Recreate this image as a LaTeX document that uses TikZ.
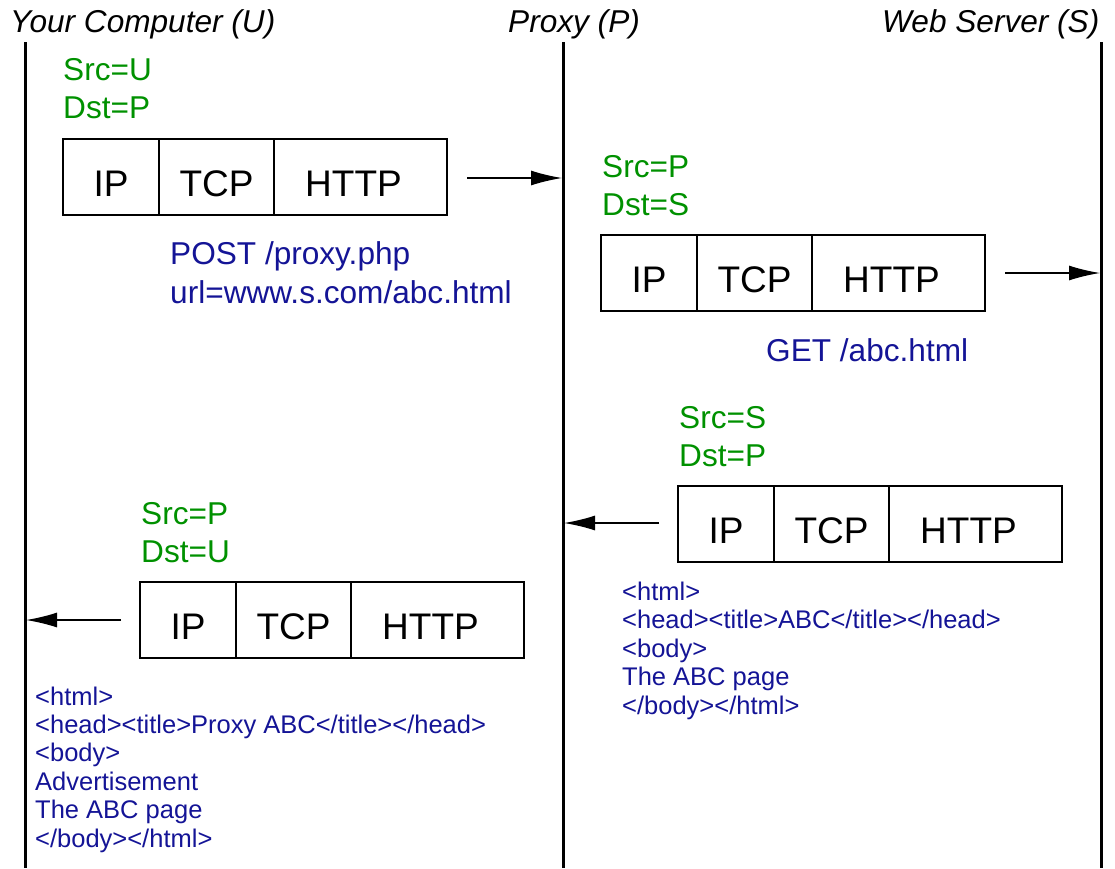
\documentclass[tikz,border=0pt]{standalone}
\usepackage{fontspec}
\setmainfont{Liberation Sans}
\usetikzlibrary{arrows.meta}
\definecolor{lblgreen}{RGB}{0,145,0}
\definecolor{lblblue}{RGB}{20,20,150}
\begin{document}
\begin{tikzpicture}[x=1pt,y=-1pt,
  title/.style={font=\fontsize{31.6}{37}\selectfont\itshape, anchor=base west, inner sep=0pt},
  life/.style={line width=3pt},
  cell/.style={draw, line width=1.4pt, minimum height=76pt, text height=38pt, text depth=0pt,
    inner sep=0pt, outer sep=0pt, font=\fontsize{37}{40}\selectfont, anchor=north west},
  addr/.style={text=lblgreen, font=\fontsize{31.6}{37.5}\selectfont, align=left, anchor=base west, inner sep=0pt},
  req/.style={text=lblblue, font=\fontsize{31.6}{39}\selectfont, align=left, anchor=base west, inner sep=0pt},
  html/.style={text=lblblue, font=\fontsize{25.5}{28.4}\selectfont, align=left, anchor=base west, inner sep=0pt},
  msg/.style={line width=1.4pt, -{Latex[length=31pt,width=15pt]}},
]
\useasboundingbox (0,0) rectangle (1115,868);

% titles
\node[title] (tU) at (10,32) {Your Computer (U)};
\node[title] (tP) at (508,32) {Proxy (P)};
\node[title] (tS) at (882,32) {Web Server (S)};

% lifelines
\coordinate (Utop) at (25,42);  \coordinate (Ubot) at (25,868);
\coordinate (Ptop) at (563,42); \coordinate (Pbot) at (563,868);
\coordinate (Stop) at (1101,42); \coordinate (Sbot) at (1101,868);
\draw[life] (Utop) -- (Ubot);
\draw[life] (Ptop) -- (Pbot);
\draw[life] (Stop) -- (Sbot);

% packet 1: U -> P
\node[addr] (a1) at (63,118) {Src=U\\Dst=P};
\node[cell, minimum width=96pt] (b1ip) at (63,139) {IP};
\node[cell, minimum width=115pt] (b1tcp) at (b1ip.north east) {TCP};
\node[cell, minimum width=173pt] (b1http) at (b1tcp.north east) {HTTP\kern14pt};
\node[req] (r1) at (170,303) {POST /proxy.php\\url=www.s.com/abc.html};
\coordinate (m1s) at (467,178); \coordinate (m1e) at (562,178);
\draw[msg] (m1s) -- (m1e);

% packet 2: P -> S
\node[addr] (a2) at (602,215) {Src=P\\Dst=S};
\node[cell, minimum width=96pt] (b2ip) at (601,235) {IP};
\node[cell, minimum width=115pt] (b2tcp) at (b2ip.north east) {TCP};
\node[cell, minimum width=173pt] (b2http) at (b2tcp.north east) {HTTP\kern14pt};
\node[req] (r2) at (766,361) {GET /abc.html};
\coordinate (m2s) at (1005,273); \coordinate (m2e) at (1100,273);
\draw[msg] (m2s) -- (m2e);

% packet 3: S -> P
\node[addr] (a3) at (679,466) {Src=S\\Dst=P};
\node[cell, minimum width=96pt] (b3ip) at (678,486) {IP};
\node[cell, minimum width=115pt] (b3tcp) at (b3ip.north east) {TCP};
\node[cell, minimum width=173pt] (b3http) at (b3tcp.north east) {HTTP\kern14pt};
\node[html] (h3) at (622,714) {<html>\\<head><title>ABC</title></head>\\<body>\\The ABC page\\</body></html>};
\coordinate (m3s) at (659,523); \coordinate (m3e) at (564,523);
\draw[msg] (m3s) -- (m3e);

% packet 4: P -> U
\node[addr] (a4) at (141,562) {Src=P\\Dst=U};
\node[cell, minimum width=96pt] (b4ip) at (140,582) {IP};
\node[cell, minimum width=115pt] (b4tcp) at (b4ip.north east) {TCP};
\node[cell, minimum width=173pt] (b4http) at (b4tcp.north east) {HTTP\kern14pt};
\node[html] (h4) at (35,847) {<html>\\<head><title>Proxy ABC</title></head>\\<body>\\Advertisement\\The ABC page\\</body></html>};
\coordinate (m4s) at (121,620); \coordinate (m4e) at (26,620);
\draw[msg] (m4s) -- (m4e);
\end{tikzpicture}
\end{document}
